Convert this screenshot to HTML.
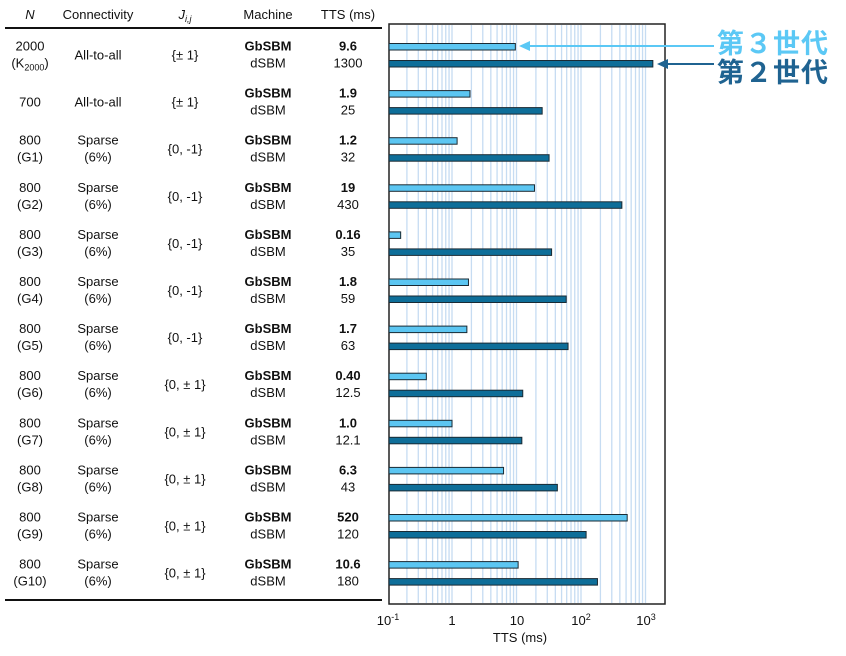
<!DOCTYPE html><html><head><meta charset="utf-8"><style>body{margin:0;background:#fff}svg{display:block}text{font-family:"Liberation Sans",Arial,sans-serif;font-size:13px;fill:#111}</style></head><body>
<svg width="846" height="656" viewBox="0 0 846 656" xmlns="http://www.w3.org/2000/svg">
<g text-anchor="middle">
<text x="30" y="19" font-style="italic">N</text>
<text x="98" y="19">Connectivity</text>
<text x="185" y="19" font-style="italic">J<tspan font-size="9" dy="3">i,j</tspan></text>
<text x="268" y="19">Machine</text>
<text x="348" y="19">TTS (ms)</text>
</g>
<line x1="5" y1="28" x2="382" y2="28" stroke="#111" stroke-width="2"/>
<line x1="5" y1="600" x2="382" y2="600" stroke="#111" stroke-width="2"/>
<g id="grid" stroke="#c6dcf2" stroke-width="1.3"></g>
<rect x="389" y="24" width="276" height="580" fill="none" stroke="#222" stroke-width="1.5"/>
<g id="rows" text-anchor="middle"></g>
<g text-anchor="middle">
<text x="388" y="625">10<tspan font-size="9" dy="-5">-1</tspan></text>
<text x="452" y="625">1</text>
<text x="517" y="625">10</text>
<text x="581" y="625">10<tspan font-size="9" dy="-5">2</tspan></text>
<text x="646" y="625">10<tspan font-size="9" dy="-5">3</tspan></text>
<text x="520" y="642">TTS (ms)</text>
</g>
<line x1="714" y1="46" x2="528" y2="46" stroke="#5bc8f5" stroke-width="2"/>
<polygon points="519,46 530,41 530,51" fill="#5bc8f5"/>
<line x1="714" y1="64" x2="666" y2="64" stroke="#1f6391" stroke-width="2"/>
<polygon points="657,64 668,59 668,69" fill="#1f6391"/>
<text x="717" y="53" style="font-family:'Noto Sans CJK JP',sans-serif;font-size:27px;font-weight:bold;fill:#5bc8f5;letter-spacing:1px">第３世代</text>
<text x="717" y="82" style="font-family:'Noto Sans CJK JP',sans-serif;font-size:27px;font-weight:bold;fill:#1f6391;letter-spacing:1px">第２世代</text>
</svg>
<script>
const NS="http://www.w3.org/2000/svg";
const X=v=>452+64.5*Math.log10(v);
const g=document.getElementById('grid');
for(let d=-1;d<=3;d++)for(let k=1;k<=9;k++){const v=k*Math.pow(10,d);if(v<=0.1||v>1000)continue;const l=document.createElementNS(NS,'line');const x=X(v);l.setAttribute('x1',x);l.setAttribute('x2',x);l.setAttribute('y1',25);l.setAttribute('y2',603);g.appendChild(l);}
const rows=[["2000","(K2000)","All-to-all","","{± 1}","9.6",9.6,"1300",1300],
["700","","All-to-all","","{± 1}","1.9",1.9,"25",25],
["800","(G1)","Sparse","(6%)","{0, -1}","1.2",1.2,"32",32],
["800","(G2)","Sparse","(6%)","{0, -1}","19",19,"430",430],
["800","(G3)","Sparse","(6%)","{0, -1}","0.16",0.16,"35",35],
["800","(G4)","Sparse","(6%)","{0, -1}","1.8",1.8,"59",59],
["800","(G5)","Sparse","(6%)","{0, -1}","1.7",1.7,"63",63],
["800","(G6)","Sparse","(6%)","{0, ± 1}","0.40",0.4,"12.5",12.5],
["800","(G7)","Sparse","(6%)","{0, ± 1}","1.0",1.0,"12.1",12.1],
["800","(G8)","Sparse","(6%)","{0, ± 1}","6.3",6.3,"43",43],
["800","(G9)","Sparse","(6%)","{0, ± 1}","520",520,"120",120],
["800","(G10)","Sparse","(6%)","{0, ± 1}","10.6",10.6,"180",180]];
let h='';
rows.forEach((r,i)=>{const y=47.5+i*47.1;
const t=(x,yy,s,b)=>`<text x="${x}" y="${yy}"${b?' font-weight="bold"':''}>${s}</text>`;
if(r[1]){h+=t(30,y+3,r[0]);h+=r[1]=="(K2000)"?`<text x="30" y="${y+20}">(K<tspan font-size="9" dy="3">2000</tspan><tspan dy="-3">)</tspan></text>`:t(30,y+20,r[1]);}else h+=t(30,y+12,r[0]);
if(r[3]){h+=t(98,y+3,r[2]);h+=t(98,y+20,r[3]);}else h+=t(98,y+12,r[2]);
h+=t(185,y+12,r[4]);
h+=t(268,y+3,"GbSBM",1)+t(268,y+20,"dSBM");
h+=t(348,y+3,r[5],1)+t(348,y+20,r[7]);
h+=`<rect x="389" y="${y-4}" width="${X(r[6])-389}" height="6.5" fill="#5cc6f2" stroke="#1a2a33" stroke-width="1"/>`;
h+=`<rect x="389" y="${y+13}" width="${X(r[8])-389}" height="6.5" fill="#0e6e99" stroke="#1a2a33" stroke-width="1"/>`;
});
document.getElementById('rows').innerHTML=h;
</script>
</body></html>
